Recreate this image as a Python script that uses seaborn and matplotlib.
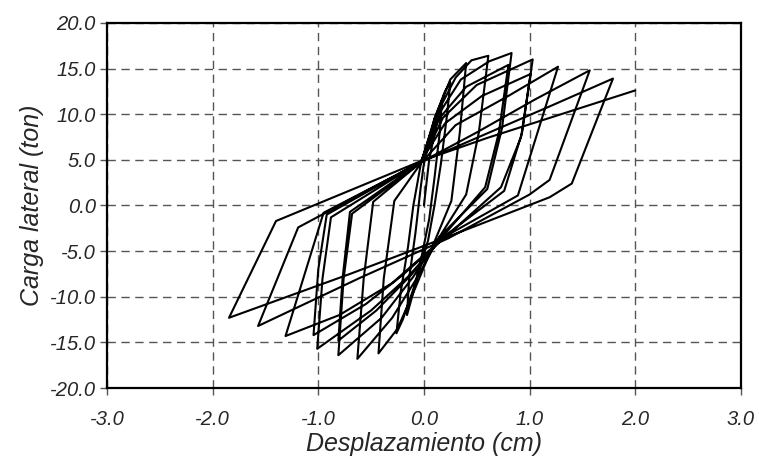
"""
Hysteresis curve: lateral load vs. displacement (cyclic test).
Saves out.png.
"""
import matplotlib
matplotlib.use("Agg")
import matplotlib.pyplot as plt
import seaborn as sns
import pandas as pd

# --- data (cm, ton), one list pair per cycle ---
cyc1_x = [0.00, 0.05, 0.12, 0.17, 0.15, 0.10, 0.05, -0.02, -0.10, -0.16, -0.14, -0.08, -0.03]
cyc1_y = [0.0, 5.0, 9.0, 11.5, 8.0, 3.0, -1.5, -5.5, -9.5, -12.0, -8.0, -3.0, 2.0]

cyc2_x = [0.00, 0.10, 0.20, 0.25, 0.22, 0.16, 0.10, 0.04, -0.08, -0.20, -0.26, -0.22, -0.15, -0.10, -0.03]
cyc2_y = [4.6, 9.5, 12.5, 13.5, 10.0, 4.5, 0.0, -3.8, -8.5, -12.5, -14.0, -9.5, -4.5, 0.0, 4.5]

cyc3_x = [0.10, 0.25, 0.40, 0.34, 0.26, 0.12, -0.08, -0.25, -0.43, -0.38, -0.28, -0.03]
cyc3_y = [9.5, 13.8, 15.6, 8.0, 0.5, -3.4, -9.0, -13.5, -16.2, -8.0, 0.5, 4.6]

cyc4_x = [0.12, 0.30, 0.45, 0.61, 0.52, 0.40, 0.15, -0.08, -0.30, -0.63, -0.57, -0.48, -0.03]
cyc4_y = [10.0, 14.0, 15.9, 16.4, 8.0, 1.2, -3.4, -8.2, -12.3, -16.8, -8.0, 0.4, 4.7]

cyc5_x = [0.14, 0.35, 0.62, 0.83, 0.74, 0.60, 0.15, -0.10, -0.40, -0.81, -0.76, -0.68, -0.03]
cyc5_y = [10.0, 13.8, 15.8, 16.7, 8.5, 1.8, -3.4, -7.8, -12.3, -16.4, -8.0, -0.9, 4.7]

cyc6_x = [0.15, 0.40, 0.80, 0.71, 0.58, 0.17, -0.12, -0.45, -0.81, -0.77, -0.70, -0.02]
cyc6_y = [9.6, 13.0, 15.4, 8.0, 2.0, -3.5, -7.6, -11.5, -14.8, -8.0, -0.7, 4.8]

cyc7_x = [0.18, 0.50, 1.03, 0.93, 0.76, 0.18, -0.15, -0.50, -1.01, -0.96, -0.88, -0.03]
cyc7_y = [9.6, 13.2, 16.0, 8.0, 1.6, -3.5, -7.8, -11.5, -15.7, -8.0, -1.3, 4.8]

cyc8_x = [0.20, 0.55, 1.01, 0.92, 0.73, 0.20, -0.20, -0.55, -1.045, -1.00, -0.92, 0.00]
cyc8_y = [9.0, 12.0, 14.4, 7.5, 2.0, -3.5, -7.6, -10.8, -14.2, -7.0, -1.0, 5.0]

cyc9_x = [0.30, 0.80, 1.27, 0.89, 0.20, -0.30, -0.80, -1.31, -0.95, -0.05]
cyc9_y = [8.8, 12.0, 15.2, 1.1, -3.4, -8.5, -12.0, -14.3, -0.8, 4.6]

cyc10_x = [0.50, 1.05, 1.57, 1.19, 1.00, 0.23, -0.60, -1.57, -1.19, -0.04]
cyc10_y = [8.0, 11.6, 14.8, 2.8, 1.2, -3.6, -7.9, -13.2, -2.4, 4.7]

cyc11_x = [0.60, 1.20, 1.79, 1.40, 1.19, 0.21, -0.70, -1.845, -1.40, -0.02]
cyc11_y = [7.9, 10.9, 13.9, 2.4, 0.9, -3.5, -7.5, -12.3, -1.7, 4.9]

final_x = [0.60, 1.30, 2.00]
final_y = [7.4, 10.0, 12.6]

x_ticks = [-3.0, -2.0, -1.0, 0.0, 1.0, 2.0, 3.0]
y_ticks = [-20.0, -15.0, -10.0, -5.0, 0.0, 5.0, 10.0, 15.0, 20.0]


def build_path():
    xs = (cyc1_x + cyc2_x + cyc3_x + cyc4_x + cyc5_x + cyc6_x + cyc7_x + cyc8_x
          + cyc9_x + cyc10_x + cyc11_x + final_x)
    ys = (cyc1_y + cyc2_y + cyc3_y + cyc4_y + cyc5_y + cyc6_y + cyc7_y + cyc8_y
          + cyc9_y + cyc10_y + cyc11_y + final_y)
    return pd.DataFrame({"disp": xs, "load": ys})


def main():
    sns.set_style("white")
    plt.rcParams["font.family"] = ["Liberation Sans", "DejaVu Sans"]

    df = build_path()

    fig = plt.figure(figsize=(7.59, 4.67), dpi=100)
    ax = fig.add_axes([0.141, 0.169, 0.835, 0.782])

    sns.lineplot(data=df, x="disp", y="load", sort=False, estimator=None,
                 color="black", linewidth=1.5, ax=ax)

    ax.set_xlim(-3, 3)
    ax.set_ylim(-20, 20)
    ax.set_xticks(x_ticks)
    ax.set_yticks(y_ticks)
    ax.set_xticklabels([f"{v:.1f}" for v in x_ticks], style="italic", fontsize=14.5)
    ax.set_yticklabels([f"{v:.1f}" for v in y_ticks], style="italic", fontsize=14.5)
    ax.tick_params(axis="both", direction="out", length=5, width=1, color="#555555",
                   bottom=True, left=True, top=False, right=False, pad=3)
    ax.tick_params(axis="x", pad=11)

    ax.grid(True, linestyle=(0, (6, 4)), color="#555555", linewidth=1.0)
    for s in ax.spines.values():
        s.set_color("black")
        s.set_linewidth(1.6)

    ax.set_xlabel("Desplazamiento (cm)", style="italic", fontsize=18, labelpad=2)
    ax.set_ylabel("Carga lateral (ton)", style="italic", fontsize=18, labelpad=4)

    fig.savefig("out.png", dpi=100)
    plt.close(fig)


if __name__ == "__main__":
    main()
